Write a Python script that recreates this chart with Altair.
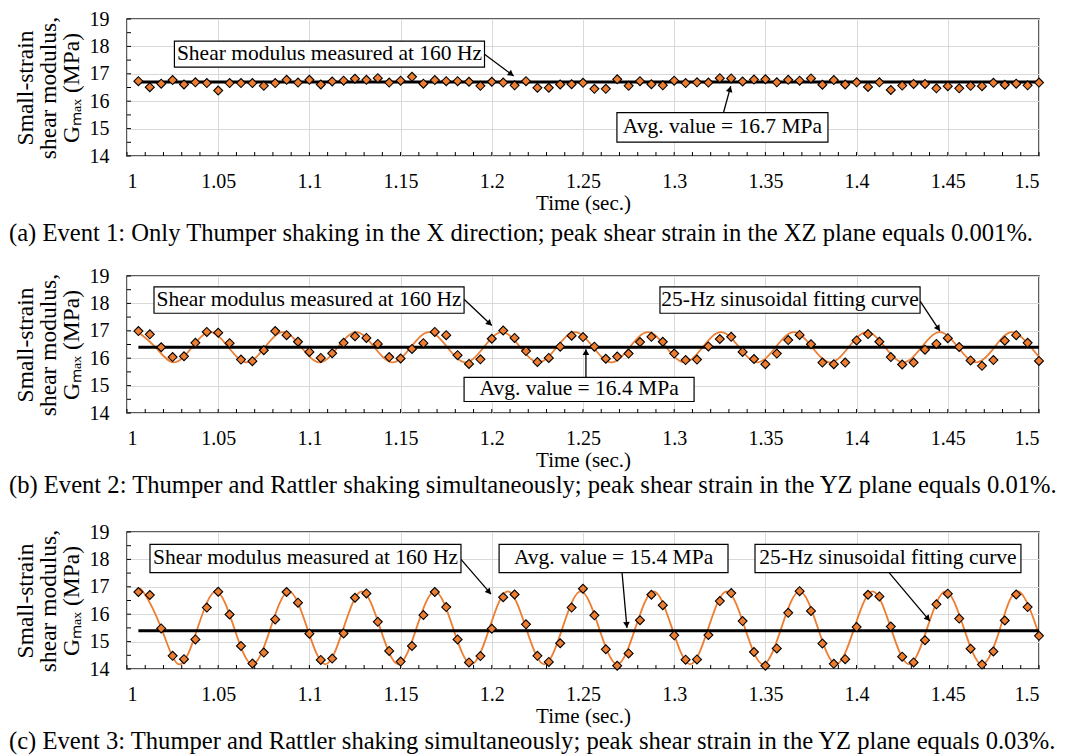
import math
import altair as alt
import pandas as pd

# ---------------- data ----------------
times = [1.00625, 1.0125, 1.01875, 1.025, 1.03125, 1.0375, 1.04375, 1.05,
         1.05625, 1.0625, 1.06875, 1.075, 1.08125, 1.0875, 1.09375, 1.1,
         1.10625, 1.1125, 1.11875, 1.125, 1.13125, 1.1375, 1.14375, 1.15,
         1.15625, 1.1625, 1.16875, 1.175, 1.18125, 1.1875, 1.19375, 1.2,
         1.20625, 1.2125, 1.21875, 1.225, 1.23125, 1.2375, 1.24375, 1.25,
         1.25625, 1.2625, 1.26875, 1.275, 1.28125, 1.2875, 1.29375, 1.3,
         1.30625, 1.3125, 1.31875, 1.325, 1.33125, 1.3375, 1.34375, 1.35,
         1.35625, 1.3625, 1.36875, 1.375, 1.38125, 1.3875, 1.39375, 1.4,
         1.40625, 1.4125, 1.41875, 1.425, 1.43125, 1.4375, 1.44375, 1.45,
         1.45625, 1.4625, 1.46875, 1.475, 1.48125, 1.4875, 1.49375, 1.5]

g_event1 = [16.73, 16.51, 16.64, 16.77, 16.61, 16.69, 16.66, 16.39, 16.66, 16.66,
            16.66, 16.56, 16.66, 16.78, 16.68, 16.78, 16.61, 16.72, 16.75, 16.82,
            16.78, 16.84, 16.68, 16.75, 16.89, 16.64, 16.77, 16.73, 16.73, 16.71,
            16.56, 16.71, 16.68, 16.58, 16.73, 16.49, 16.49, 16.61, 16.62, 16.67,
            16.45, 16.45, 16.80, 16.56, 16.73, 16.62, 16.58, 16.75, 16.66, 16.69,
            16.68, 16.84, 16.83, 16.72, 16.79, 16.80, 16.69, 16.78, 16.75, 16.83,
            16.60, 16.77, 16.61, 16.69, 16.52, 16.69, 16.41, 16.57, 16.63, 16.63,
            16.47, 16.55, 16.47, 16.56, 16.55, 16.67, 16.60, 16.64, 16.58, 16.68]

g_event2 = [16.99, 16.87, 16.40, 16.04, 16.07, 16.56, 16.96, 16.93, 16.55, 15.95,
            15.89, 16.29, 16.99, 16.84, 16.60, 16.23, 16.01, 16.18, 16.56, 16.80,
            16.74, 16.52, 16.04, 15.99, 16.34, 16.55, 16.96, 16.84, 16.11, 15.79,
            15.96, 16.71, 17.01, 16.74, 16.26, 15.86, 16.01, 16.42, 16.82, 16.77,
            16.42, 15.98, 16.06, 16.17, 16.59, 16.78, 16.60, 16.17, 15.93, 15.95,
            16.43, 16.70, 16.78, 16.23, 15.97, 15.78, 16.17, 16.66, 16.85, 16.51,
            15.84, 15.78, 15.84, 16.65, 16.88, 16.60, 16.04, 15.77, 15.84, 16.31,
            16.52, 16.73, 16.41, 15.92, 15.72, 15.93, 16.64, 16.84, 16.56, 15.90]

g_event3 = [16.81, 16.70, 15.48, 14.48, 14.36, 15.08, 16.24, 16.82, 15.99, 14.84,
            14.20, 14.60, 15.81, 16.81, 16.42, 15.29, 14.33, 14.38, 15.30, 16.60,
            16.76, 15.72, 14.66, 14.27, 14.84, 15.97, 16.81, 16.26, 15.08, 14.24,
            14.47, 15.47, 16.62, 16.72, 15.63, 14.48, 14.26, 14.94, 16.24, 16.93,
            15.96, 14.72, 14.12, 14.57, 15.78, 16.71, 16.33, 15.23, 14.34, 14.35,
            15.24, 16.48, 16.77, 15.75, 14.62, 14.12, 14.75, 16.05, 16.84, 16.12,
            14.93, 14.19, 14.36, 15.53, 16.71, 16.65, 15.55, 14.45, 14.24, 15.05,
            16.36, 16.75, 15.84, 14.74, 14.16, 14.64, 15.77, 16.72, 16.26, 15.21]

# 25-Hz fitting curves, read at their peaks, troughs and mean crossings
curve2_t = [1.00625, 1.0156, 1.0256, 1.0356, 1.0456, 1.0556, 1.0656, 1.0756, 1.0856,
            1.0956, 1.1056, 1.1156, 1.1256, 1.1356, 1.1456, 1.1556, 1.1656, 1.1756,
            1.1856, 1.1956, 1.2056, 1.2156, 1.2256, 1.2356, 1.2456, 1.2556, 1.2656,
            1.2756, 1.2856, 1.2956, 1.3056, 1.3156, 1.3256, 1.3356, 1.3456, 1.3556,
            1.3656, 1.3756, 1.3856, 1.3956, 1.4056, 1.4156, 1.4256, 1.4356, 1.4456,
            1.4556, 1.4656, 1.4756, 1.4856, 1.4956, 1.5]
curve2_v = [16.95, 16.4, 15.85, 16.4, 16.95, 16.4, 15.85, 16.4, 16.95,
            16.4, 15.85, 16.4, 16.95, 16.4, 15.85, 16.4, 16.95, 16.4,
            15.85, 16.4, 16.95, 16.4, 15.85, 16.4, 16.95, 16.4, 15.85,
            16.4, 16.95, 16.4, 15.85, 16.4, 16.95, 16.4, 15.85, 16.4,
            16.95, 16.4, 15.85, 16.4, 16.95, 16.4, 15.85, 16.4, 16.95,
            16.4, 15.85, 16.4, 16.95, 16.4, 16.05]

curve3_t = [1.00625, 1.00875, 1.01875, 1.02875, 1.03875, 1.04875, 1.05875, 1.06875,
            1.07875, 1.08875, 1.09875, 1.10875, 1.11875, 1.12875, 1.13875, 1.14875,
            1.15875, 1.16875, 1.17875, 1.18875, 1.19875, 1.20875, 1.21875, 1.22875,
            1.23875, 1.24875, 1.25875, 1.26875, 1.27875, 1.28875, 1.29875, 1.30875,
            1.31875, 1.32875, 1.33875, 1.34875, 1.35875, 1.36875, 1.37875, 1.38875,
            1.39875, 1.40875, 1.41875, 1.42875, 1.43875, 1.44875, 1.45875, 1.46875,
            1.47875, 1.48875, 1.49875, 1.5]
curve3_v = [16.76, 16.83, 15.5, 14.17, 15.5, 16.83, 15.5, 14.17,
            15.5, 16.83, 15.5, 14.17, 15.5, 16.83, 15.5, 14.17,
            15.5, 16.83, 15.5, 14.17, 15.5, 16.83, 15.5, 14.17,
            15.5, 16.83, 15.5, 14.17, 15.5, 16.83, 15.5, 14.17,
            15.5, 16.83, 15.5, 14.17, 15.5, 16.83, 15.5, 14.17,
            15.5, 16.83, 15.5, 14.17, 15.5, 16.83, 15.5, 14.17,
            15.5, 16.83, 15.5, 15.24]

avg_values = [16.7, 16.4, 15.4]
avg_start, avg_end = 1.00625, 1.5

x_labels = [1.0, 1.05, 1.1, 1.15, 1.2, 1.25, 1.3, 1.35, 1.4, 1.45, 1.5]
y_labels = [14, 15, 16, 17, 18, 19]
x_minor = [1.00, 1.01, 1.02, 1.03, 1.04, 1.05, 1.06, 1.07, 1.08, 1.09,
           1.10, 1.11, 1.12, 1.13, 1.14, 1.15, 1.16, 1.17, 1.18, 1.19,
           1.20, 1.21, 1.22, 1.23, 1.24, 1.25, 1.26, 1.27, 1.28, 1.29,
           1.30, 1.31, 1.32, 1.33, 1.34, 1.35, 1.36, 1.37, 1.38, 1.39,
           1.40, 1.41, 1.42, 1.43, 1.44, 1.45, 1.46, 1.47, 1.48, 1.49, 1.50]
y_minor = [14, 14.5, 15, 15.5, 16, 16.5, 17, 17.5, 18, 18.5, 19]

captions = [
    "(a) Event 1: Only Thumper shaking in the X direction; peak shear strain in the XZ plane equals 0.001%.",
    "(b) Event 2: Thumper and Rattler shaking simultaneously; peak shear strain in the YZ plane equals 0.01%.",
    "(c) Event 3: Thumper and Rattler shaking simultaneously; peak shear strain in the YZ plane equals 0.03%.",
]

label_meas = "Shear modulus measured at 160 Hz"
label_fit = "25-Hz sinusoidal fitting curve"

# annotation boxes (x1, x2, y1, y2, text) and arrows (t1, v1, t2, v2), data coordinates
boxes = [
    [(1.026, 1.196, 17.24, 18.19, label_meas),
     (1.2686, 1.3843, 14.51, 15.58, "Avg. value = 16.7 MPa")],
    [(1.0148, 1.1848, 17.64, 18.6, label_meas),
     (1.1848, 1.3109, 14.42, 15.3, "Avg. value = 16.4 MPa"),
     (1.2922, 1.4348, 17.64, 18.6, label_fit)],
    [(1.0126, 1.1831, 17.52, 18.55, label_meas),
     (1.204, 1.3295, 17.52, 18.55, "Avg. value = 15.4 MPa"),
     (1.3443, 1.4901, 17.52, 18.55, label_fit)],
]
arrows = [
    [(1.196, 17.71, 1.212, 16.92), (1.327, 15.58, 1.331, 16.55)],
    [(1.1848, 18.15, 1.2, 17.19), (1.2516, 15.3, 1.2516, 16.33), (1.4348, 18.08, 1.4457, 16.99)],
    [(1.1831, 18.0, 1.1996, 16.73), (1.2714, 17.52, 1.2741, 15.5), (1.4178, 17.52, 1.4402, 15.75)],
]

# ---------------- styling ----------------
W, H = 912, 137
PXS = W / 0.5
PXM = H / 5.0
FONT = "Liberation Serif"
ORANGE = "#ED7D31"
caption_offsets = [9, 4, 4]

x_scale = alt.Scale(domain=[1.0, 1.5], nice=False, zero=False)
y_scale = alt.Scale(domain=[14, 19], nice=False, zero=False)
x_axis = alt.Axis(values=x_labels, format="~g", title="Time (sec.)", grid=True,
                  tickSize=0, labelPadding=15, titlePadding=1, domain=False)
y_axis = alt.Axis(values=y_labels, title=["Small-strain", "shear modulus,", "Gₘₐₓ (MPa)"],
                  grid=True, tickSize=0, labelPadding=18, titlePadding=6,
                  titleLineHeight=23, titleFontSize=23.5, domain=False)


def X(field, **kw):
    return alt.X(field, type="quantitative", scale=x_scale, axis=x_axis, **kw)


def Y(field, **kw):
    return alt.Y(field, type="quantitative", scale=y_scale, axis=y_axis, **kw)


def head(t1, v1, t2, v2):
    dx = (t2 - t1) * PXS
    dy = -(v2 - v1) * PXM
    L = math.hypot(dx, dy)
    ux, uy = dx / L, dy / L
    ang = math.degrees(math.atan2(ux, -uy)) % 360
    back = 3.0
    return t2 - back * ux / PXS, v2 + back * uy / PXM, ang


def panel(i, gvals, curve_t=None, curve_v=None):
    pts = pd.DataFrame({"t": times, "g": gvals})
    xt = pd.DataFrame({"t": x_minor})
    yt = pd.DataFrame({"v": y_minor})
    avg = pd.DataFrame({"t1": [avg_start], "t2": [avg_end], "v": [avg_values[i]]})
    bx = pd.DataFrame(boxes[i], columns=["x1", "x2", "y1", "y2", "label"])
    bx["xc"] = (bx.x1 + bx.x2) / 2
    bx["yc"] = (bx.y1 + bx.y2) / 2
    ar = pd.DataFrame(arrows[i], columns=["t1", "v1", "t2", "v2"])
    hd = pd.DataFrame([head(*a) for a in arrows[i]], columns=["t", "v", "ang"])

    layers = []
    layers.append(alt.Chart(xt).mark_rule(color="black", strokeWidth=1).encode(
        x=X("t"), y=alt.value(H), y2=alt.value(H - 4)))
    layers.append(alt.Chart(yt).mark_rule(color="black", strokeWidth=1).encode(
        y=Y("v"), x=alt.value(0), x2=alt.value(4)))
    if curve_t is not None:
        cv = pd.DataFrame({"t": curve_t, "g": curve_v})
        layers.append(alt.Chart(cv).mark_line(color=ORANGE, strokeWidth=1.8,
                                              interpolate="natural").encode(
            x=X("t"), y=Y("g"), order="t:Q"))
    layers.append(alt.Chart(avg).mark_rule(color="black", strokeWidth=3).encode(
        x=X("t1"), x2="t2", y=Y("v")))
    layers.append(alt.Chart(pts).mark_point(shape="diamond", filled=True, fill=ORANGE,
                                            stroke="black", strokeWidth=1.1,
                                            size=80, opacity=1).encode(
        x=X("t"), y=Y("g")))
    layers.append(alt.Chart(ar).mark_rule(color="black", strokeWidth=1.3).encode(
        x=X("t1"), y=Y("v1"), x2="t2", y2="v2"))
    layers.append(alt.Chart(hd).mark_point(shape="triangle-up", filled=True,
                                           color="black", size=45, opacity=1,
                                           strokeWidth=0).encode(
        x=X("t"), y=Y("v"), angle=alt.Angle("ang:Q", scale=None)))
    layers.append(alt.Chart(bx).mark_rect(fill="white", stroke="black",
                                          strokeWidth=1.2).encode(
        x=X("x1"), x2="x2", y=Y("y1"), y2="y2"))
    layers.append(alt.Chart(bx).mark_text(font=FONT, fontSize=21.5, color="black",
                                          baseline="middle", align="center").encode(
        x=X("xc"), y=Y("yc"), text="label:N"))

    return alt.layer(*layers).properties(
        width=W, height=H,
        title=alt.TitleParams(captions[i], orient="bottom", anchor="start",
                              frame="bounds", font=FONT, fontSize=24.6,
                              fontWeight="normal", color="black",
                              offset=caption_offsets[i], dx=-4),
    )


chart = alt.vconcat(
    alt.vconcat(panel(0, g_event1), panel(1, g_event2, curve2_t, curve2_v), spacing=18),
    panel(2, g_event3, curve3_t, curve3_v),
    spacing=22,
).properties(
    padding={"left": 0, "top": 0, "right": 0, "bottom": 0},
    background="white",
).configure_view(
    stroke="#262626", strokeWidth=1.5,
).configure_axis(
    labelFont=FONT, labelFontSize=20, labelColor="black",
    titleFont=FONT, titleFontSize=21, titleFontWeight="normal", titleColor="black",
    gridColor="#d9d9d9", gridWidth=1,
)

chart.save("out.html", embed_options={"renderer": "svg", "actions": False})
